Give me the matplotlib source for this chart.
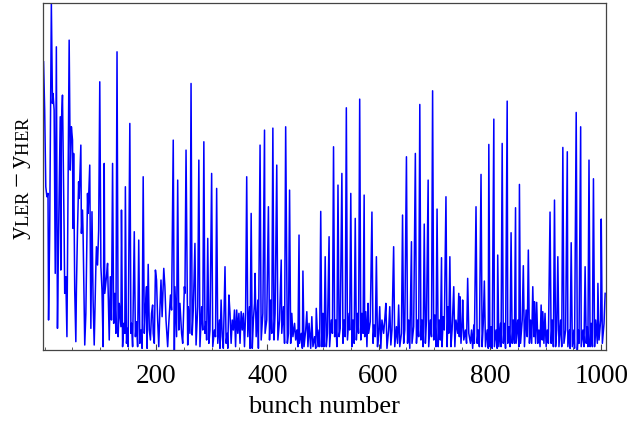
import matplotlib
matplotlib.use("Agg")
import matplotlib.pyplot as plt
from matplotlib.ticker import MultipleLocator

plt.rcParams['font.family'] = ['Liberation Serif', 'DejaVu Serif']
plt.rcParams['mathtext.fontset'] = 'custom'
plt.rcParams['mathtext.rm'] = 'Liberation Serif'
plt.rcParams['mathtext.it'] = 'Liberation Serif:italic'

# bunch number / orbit difference (arbitrary units)
b1 = [-2,0,2,4,6,7,9,12,14,15,17,19,21,23,25,28,29,30,32,35,36,38,40,44,46,48,50,51,52,54,56,57,59,61,62,65,66,68,69,72,74,77,78,81,83,85,87,89,92,93,95,97,99,101,103,105,107,108,111,113,116,118,120,122,124,126,128,130,132,134,137,138,140]
v1 = [86.5,72,49,46,47,9,35,104,74,77,72,23,91,6.5,35,70,24,68,76.5,35,17,22,4,93,54,67,63,36.5,59,18,2.5,18,36,50.5,45.5,61.5,35,42,35,1.5,11,47,41,55.5,6.5,41.5,15,1.5,25,31,25.5,36,80.5,25,18,1,56,17,22,26,3,22,9,56,8,17,5,89.5,4,14,7,42,1]

b2 = [142,144,145,147,149,150,153,155,156,158,161,163,165,167,169,171,173,175,177,179,181,183,184,186,188,190,192,194,195,197,199,201,203,205,207,209,211,214,216,218,221,223,226,228,231,233,234,237,239,241,243,246,248,251,252,254,257,258,261,263,265,267,270,272,275,277,279,282,284,286]
v2 = [8,5,49,2,6.5,1,68,5,8,1,35.5,4,8.5,1,33,2,6,0.5,52,5,12.5,19,0.5,25.7,6,3,11,13.5,5,2,24,21,9,1,12,21,10,24.5,19,9,1,8,16.5,12,63,0,19,4,51,6,14,5,2,19,17,60,1.5,13,5,80,4.5,12,32,1.5,13,57,1,13,6,62.5]

b3 = [288,290,291,293,295,297,300,302,305,307,309,311,314,315,317,319,321,324,326,328,329,331,333,335,337,339,341,343,345,347,349,351,353,355,357,359,361,363,365,368,369,371,373,375,377,378,380,383,384,387,389,392,395,396,399,402,404,406,408,410,412,414,417,419,422,425,426,429]
v3 = [5,8.5,3,33.5,2,6,53,1,6,4,48.5,2,9,0.5,15,4,0.5,25,2,5,0.5,16.5,11,2,9,6,12,1,12,5,11,2,11.5,6,11,1,11,52,4,13,0.5,41,0.5,9,14,23,4,15,0.5,61.5,3,11,66,5,9,43,3,15,5,66.6,3,11,55.5,3,9,27,5,13]

b4 = [431,433,436,438,440,442,444,446,449,451,453,455,457,458,461,463,464,466,469,471,473,475,478,480,482,485,487,488,491,493,494,496,498,500,502,504,506,508,511,512,515,517,519,521,523,525,527,529,531,534,536,538,540,542,544,547,548,550,552,554,556,558,560,562,564,566,568,570,572,574]
v4 = [2,67,2,5,48,2,11,4,8,3,6,1,34.5,2,5,0.5,23.7,1,6,11.5,1,8,0.5,10,1,4,0.5,12.5,1,6,1,41.6,1,11,1,28,1,5,34,1,9,5,61,4,9,1,49.5,4,6.5,53,2,9,4,72.7,3,11,6,47,1,9,2,39.5,3,11,5,75.3,3,11,5,46.5]

b5 = [575,577,579,581,582,585,588,590,592,594,596,598,600,602,604,606,609,611,613,615,618,620,622,624,627,629,632,634,636,638,641,643,645,647,650,652,654,656,659,660,663,666,668,670,672,674,676,678,680,682,684,686,689,690,693,695,697,699,701,703,705,707,709,711,713,714]
v5 = [4,11.5,1,14,5,8.5,41.4,2,7.5,4,28,1,5,13,0.5,9,5,9,14,0.5,6,13,1.5,6,31,1,7,2,13.5,1,5,40.5,2,6,58,2,9,0.5,32.5,2,7,59,2,9,4,73.7,3,9,1,37.8,2,9,51,1,9,4,77.8,3,10.5,1,42.3,1,9,3,27.7,1]

b6 = [716,718,721,723,725,726,728,730,732,735,737,739,742,744,745,746,748,750,751,753,756,758,760,762,765,767,769,771,772,775,777,779,781,784,786,788,790,792,795,797,798,800,802,804,807,808,811,813,814,816,819,820,822,824,826,828,831,832,834,836,838,840,842,844,846,847,850,852,853,855,858,860,862]
v6 = [10,6,46,1,13,5,28,1,6,19,1,9,5,17,4,16,2,8,15,3,6,2,21.5,5,2,6,0.5,7.5,2,43,2,6,1,52.7,1,8,20.7,1,6,0.5,61.7,1,7,0.5,69.3,1,6,0.5,28.5,1,8,1,62,2,8,0.5,74.7,2,7,1,35.2,2,9,2,42.7,2,9,1,49.7,2,9,25.3,1]

b7 = [865,867,869,871,873,875,877,879,880,882,884,886,888,890,892,894,895,897,899,901,903,905,908,910,912,914,916,918,920,922,924,927,929,931,933,936,939,940,943,944,946,948,951,952,955,957,959,960,963,964,967,969,971,973,975,976,978,980,982,984,986,988,990,993,994,996,999,1000,1002,1005,1007]
v7 = [12,4,30,2,9,2,19,4,14.5,2,14.3,2,6,1,13.5,3,11.5,2,11,1,6,2,41.4,2,9,1,45,1,6,28,1,9,1,60.8,2,6,59.5,1,6,0.5,32.2,1,6,0.5,71.3,0,6,2,67,1,6,1,25,2,7,1,57,1,8,1,51.4,1,9,2,20,3,9,39.3,2,8,17]

bunch = b1 + b2 + b3 + b4 + b5 + b6 + b7
delta_y = v1 + v2 + v3 + v4 + v5 + v6 + v7

x_ticks = [200, 400, 600, 800, 1000]

fig = plt.figure(figsize=(6.32, 4.23), dpi=100)
ax = fig.add_axes([43/632, 73/423, 562.7/632, 346.5/423])
ax.plot(bunch, delta_y, color='#0000ff', lw=1.1, solid_joinstyle='round')
ax.set_xlim(-3, 1008)
ax.set_ylim(0, 104)
ax.set_xticks(x_ticks)
ax.set_xticklabels([str(t) for t in x_ticks])
ax.xaxis.set_minor_locator(MultipleLocator(50))
ax.set_yticks([])
ax.tick_params(axis='x', which='major', direction='in', length=4, width=0.8,
               color='#444444', labelsize=19.5, pad=10)
ax.tick_params(axis='x', which='minor', direction='in', length=2.5, width=0.6,
               color='#444444')
for s in ax.spines.values():
    s.set_color('#444444')
    s.set_linewidth(0.9)

fig.text(324/632, 1 - 407/423, 'bunch number', ha='center', va='center', fontsize=19)
fig.text(22/632, 1 - 178/423, r'$\mathrm{y}_{\mathrm{LER}}-\mathrm{y}_{\mathrm{HER}}$',
         rotation=90, ha='center', va='center', fontsize=19)

fig.savefig('out.png', dpi=100)
